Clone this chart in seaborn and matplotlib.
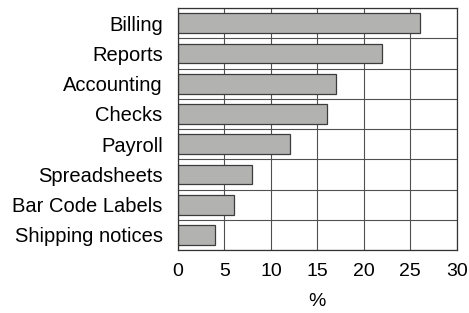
import numpy as np
import pandas as pd
import seaborn as sns
import matplotlib.pyplot as plt

# Values
categories = ["Billing", "Reports", "Accounting", "Checks", "Payroll",
              "Spreadsheets", "Bar Code Labels", "Shipping notices"]
percent = [26, 22, 17, 16, 12, 8, 6, 4]
x_ticks = [0, 5, 10, 15, 20, 25, 30]

df = pd.DataFrame({"Category": categories, "Percent": percent})

sns.set_style("white")
plt.rcParams['font.family'] = ['Liberation Sans', 'DejaVu Sans']
plt.rcParams['text.color'] = 'black'
plt.rcParams['xtick.color'] = 'black'
plt.rcParams['ytick.color'] = 'black'
plt.rcParams['axes.labelcolor'] = 'black'

fig = plt.figure(figsize=(4.69, 3.13), dpi=100)
ax = fig.add_axes([0.3795, 0.201, 0.5945, 0.773])

sns.barplot(data=df, x="Percent", y="Category", color="#b2b3b1",
            edgecolor="#3c3c3c", linewidth=0.9, width=0.65, saturation=1,
            ax=ax)

ax.set_xlim(0, 30)
ax.set_ylim(len(categories) - 0.5, -0.5)
ax.set_xticks(x_ticks)
ax.set_xticklabels([str(t) for t in x_ticks], fontsize=14)
ax.set_yticks(range(len(categories)))
ax.set_yticklabels(categories, fontsize=14.5)
ax.set_yticks(np.arange(-0.5, len(categories), 1), minor=True)
ax.tick_params(axis="y", which="major", length=0, pad=11)
ax.tick_params(axis="y", which="minor", length=3, color="#444444", width=0.8)
ax.tick_params(axis="x", which="major", length=3, color="#444444", width=0.8, pad=6)
ax.grid(True, axis="x", which="major", color="#505050", linewidth=0.8)
ax.grid(True, axis="y", which="minor", color="#505050", linewidth=0.8)
ax.set_axisbelow(True)
for s in ax.spines.values():
    s.set_visible(True)
    s.set_color("#333333")
    s.set_linewidth(0.9)

ax.set_xlabel("%", fontsize=14, labelpad=10)
ax.set_ylabel("")

fig.savefig("out.png", dpi=100)
